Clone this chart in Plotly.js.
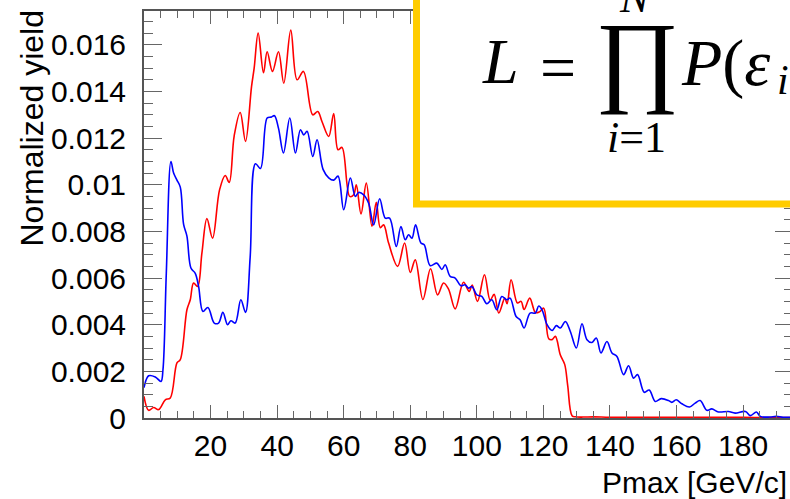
<!DOCTYPE html>
<html>
<head>
<meta charset="utf-8">
<script src="https://cdn.plot.ly/plotly-3.0.1.min.js"></script>
<style>html,body{margin:0;padding:0;overflow:hidden;background:#fff;}</style>
</head>
<body>
<div id="chart" style="width:800px;height:499px;"></div>
<script>
// ---- data ----
const redX = [0,1.4,2.9,4.4,6.4,7.9,9.9,10.9,12.9,13.9,14.9,16.1,17.4,18.9,20.6,22.7,24.4,25.6,27.1,28.9,30.5,32.3,33.1,34.3,35.9,37.0,38.6,40.4,42.0,44.1,46.0,47.9,50.7,52.2,53.5,55.5,57.0,58.3,59.5,61.8,63.0,63.8,65.2,66.8,68.5,69.8,71.0,72.0,73.5,76.2,78.3,80.0,81.5,83.8,86.1,88.2,90.0,91.5,93.5,96.0,97.7,98.6,100.2,102.3,104.0,105.2,106.6,108.4,109.1,110.3,112.2,113.3,114.2,115.9,117.6,118.8,120.1,121.6,122.6,123.6,125.1,126.4,127.3,128.6,129.6,132,135,140,150,160,170,180,185,190,195];
const redY = [0.00093,0.00033,0.00045,0.00036,0.00078,0.00086,0.00236,0.0025,0.00464,0.00507,0.00579,0.00564,0.00707,0.00855,0.00771,0.00978,0.0104,0.0101,0.0121,0.0131,0.01186,0.0142,0.0150,0.0165,0.0148,0.0157,0.01486,0.0157,0.01435,0.01663,0.0145,0.01486,0.0130,0.01314,0.0127,0.01207,0.01305,0.0115,0.0116,0.0095,0.00957,0.0100,0.00875,0.01007,0.00822,0.00925,0.00816,0.00828,0.0075,0.0065,0.0075,0.00624,0.00678,0.00508,0.0064,0.00528,0.00579,0.00553,0.00468,0.00582,0.00543,0.0057,0.005,0.00614,0.00505,0.0053,0.0045,0.00514,0.0049,0.00593,0.00493,0.005,0.00465,0.00514,0.00452,0.00455,0.00471,0.0034,0.00336,0.0035,0.0027,0.0023,0.0014,0.0001,0.00005,0.00004,0.00005,0.00003,0.00003,0.00003,0.00003,0.00003,0.00002,0.00002,0.00002];

const blueX = [0,1.4,3.4,5.1,5.7,6.7,8.1,8.9,9.9,10.9,11.9,12.9,14.1,15.4,16.4,17.7,19.2,21.1,22.4,23.7,25.1,26.1,27.4,29.1,30.5,31.9,33.5,35.0,37.0,38.2,39.2,40.4,41.9,43.8,45.5,47.0,48.0,49.0,50.7,52.0,53.8,55.5,57.0,58.3,60.0,62.0,63.5,64.5,66.0,67.5,69.0,70.8,72.5,73.8,75.8,77.2,78.5,79.5,80.5,81.6,83.2,84.2,86.0,88.0,89.5,90.5,92.0,93.5,95.2,96.5,97.5,98.5,100.0,101.5,103.0,104.5,106.0,107.5,109.0,110.0,111.8,113.0,114.2,116.0,117.6,118.6,119.6,121.1,122.6,123.9,125.1,126.6,128.1,129.9,131.6,133.1,134.6,135.9,137.3,139.1,140.6,142.1,144.1,145.6,147.1,148.3,150.3,151.8,153.6,155.4,157.6,158.6,159.9,161.6,163.9,165.6,167.1,169.1,170.6,172.6,175.6,177.6,180.7,182.2,184.0,185.2,188,190,192,195];
const blueY = [0.0013,0.00181,0.00176,0.00157,0.00207,0.0062,0.0110,0.0105,0.0102,0.0099,0.0083,0.0078,0.00643,0.0062,0.00564,0.00457,0.00474,0.00407,0.00407,0.00453,0.0040,0.00417,0.00407,0.00507,0.00453,0.0069,0.0109,0.0107,0.01286,0.0129,0.01296,0.01243,0.01136,0.01286,0.01136,0.01236,0.01214,0.01229,0.01121,0.01193,0.01066,0.0103,0.0102,0.01037,0.00893,0.01029,0.0095,0.00967,0.00957,0.00921,0.00828,0.0094,0.00857,0.00857,0.00735,0.00821,0.00764,0.00786,0.00771,0.00828,0.0075,0.00743,0.00653,0.00664,0.00637,0.00657,0.00607,0.006,0.00567,0.00571,0.00557,0.00564,0.00528,0.00521,0.0049,0.00507,0.00464,0.00521,0.00507,0.00514,0.00435,0.00421,0.00386,0.0045,0.0045,0.0048,0.00464,0.004,0.00375,0.00396,0.00386,0.00414,0.00371,0.003,0.00404,0.00336,0.00324,0.00343,0.00279,0.00328,0.00279,0.00264,0.00186,0.00224,0.00171,0.00186,0.0011,0.0012,0.00071,0.00083,0.00075,0.00067,0.00078,0.00061,0.00047,0.00064,0.00075,0.00033,0.00039,0.00026,0.00028,0.00021,0.00028,0.0001,0.00026,0.00007,0.00004,0.00007,0.00003,0.00003];

const xTickVals = [20,40,60,80,100,120,140,160,180];
const xTickText = ['20','40','60','80','100','120','140','160','180'];
const yTickVals = [0,0.002,0.004,0.006,0.008,0.01,0.012,0.014,0.016];
const yTickText = ['0','0.002','0.004','0.006','0.008','0.01','0.012','0.014','0.016'];

const xTitle = 'Pmax [GeV/c]';
const yTitle = 'Normalized yield';

// ---- layout geometry ----
const W = 800, H = 499;
const M = {l:144, r:7, t:11, b:81};
const PW = W - M.l - M.r, PH = H - M.t - M.b;
const px = v => (v - M.l) / PW;           // pixel x -> paper
const py = v => (H - M.b - v) / PH;       // pixel y -> paper

const sans = 'Liberation Sans, Arial, sans-serif';
const serif = 'Liberation Serif, Times New Roman, serif';

const traces = [
  {x: redX, y: redY, type:'scatter', mode:'lines', line:{color:'#ff0000', width:1.6, shape:'spline', smoothing:1}, hoverinfo:'skip'},
  {x: blueX, y: blueY, type:'scatter', mode:'lines', line:{color:'#0000ff', width:1.6, shape:'spline', smoothing:1}, hoverinfo:'skip'}
];

const axBase = {
  showgrid:false, zeroline:false, showline:true, linecolor:'#555', linewidth:2,
  mirror:'ticks', ticks:'inside', tickcolor:'#666', tickwidth:1,
  tickfont:{family:sans, size:30, color:'#000'}, fixedrange:true
};

const layout = {
  width:W, height:H, margin:M, showlegend:false,
  paper_bgcolor:'#fff', plot_bgcolor:'#fff',
  xaxis: Object.assign({}, axBase, {
    range:[0,195], tickmode:'array', tickvals:xTickVals, ticktext:xTickText,
    ticklen:13, ticklabelstandoff:0,
    minor:{dtick:5, tick0:0, ticks:'inside', ticklen:7, tickcolor:'#666', tickwidth:1}
  }),
  yaxis: Object.assign({}, axBase, {
    range:[0,0.01745], tickmode:'array', tickvals:yTickVals, ticktext:yTickText,
    ticklen:18, ticklabelstandoff:10,
    minor:{dtick:0.0005, tick0:0, ticks:'inside', ticklen:9, tickcolor:'#666', tickwidth:1}
  }),
  shapes:[
    {type:'rect', xref:'paper', yref:'paper', x0:px(416.5), y0:py(204), x1:px(860), y1:py(-60),
     line:{color:'#FFCC00', width:7}, fillcolor:'#ffffff', layer:'above'}
  ],
  annotations:[
    {text:xTitle, xref:'paper', yref:'paper', x:px(789), y:py(482), xanchor:'right', yanchor:'middle',
     showarrow:false, font:{family:sans, size:30, color:'#000'}},
    {text:yTitle, xref:'paper', yref:'paper', x:px(31), y:py(8), xanchor:'center', yanchor:'top',
     textangle:-90, showarrow:false, font:{family:sans, size:32, color:'#000'}},
    // formula
    {text:'<i>L</i>', xref:'paper', yref:'paper', x:px(500), y:py(61), xanchor:'center', yanchor:'middle',
     showarrow:false, font:{family:serif, size:64, color:'#000'}},
    {text:'=', xref:'paper', yref:'paper', x:px(558), y:py(67), xanchor:'center', yanchor:'middle',
     showarrow:false, font:{family:serif, size:64, color:'#000'}},
    {text:'∏', xref:'paper', yref:'paper', x:px(637), y:py(59), xanchor:'center', yanchor:'middle',
     showarrow:false, font:{family:serif, size:102, color:'#000'}},
    {text:'<i>N</i>', xref:'paper', yref:'paper', x:px(635), y:py(-3), xanchor:'center', yanchor:'middle',
     showarrow:false, font:{family:serif, size:44, color:'#000'}},
    {text:'<i>i</i>=1', xref:'paper', yref:'paper', x:px(636), y:py(137), xanchor:'center', yanchor:'middle',
     showarrow:false, font:{family:serif, size:44, color:'#000'}},
    {text:'<i>P</i>(<i>ε</i>', xref:'paper', yref:'paper', x:px(679), y:py(63), xanchor:'left', yanchor:'middle',
     showarrow:false, font:{family:serif, size:66, color:'#000'}},
    {text:'<i>i</i>', xref:'paper', yref:'paper', x:px(775), y:py(80), xanchor:'left', yanchor:'middle',
     showarrow:false, font:{family:serif, size:42, color:'#000'}}
  ]
};

Plotly.newPlot('chart', traces, layout, {staticPlot:true, displayModeBar:false});
</script>
</body>
</html>
